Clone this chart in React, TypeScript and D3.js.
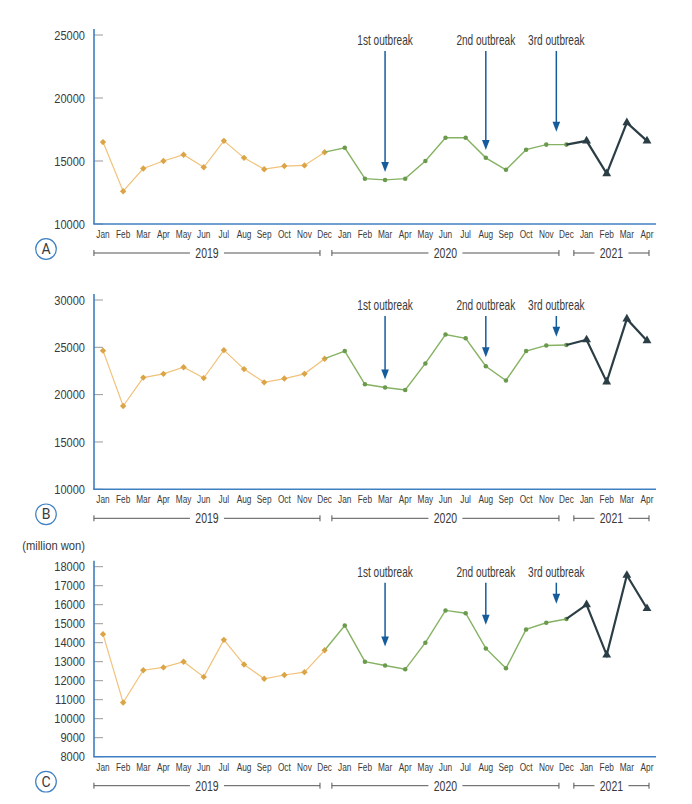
import React from 'react';
import * as d3 from 'd3';

const monthLabels = [
  'Jan', 'Feb', 'Mar', 'Apr', 'May', 'Jun', 'Jul', 'Aug', 'Sep', 'Oct', 'Nov', 'Dec',
  'Jan', 'Feb', 'Mar', 'Apr', 'May', 'Jun', 'Jul', 'Aug', 'Sep', 'Oct', 'Nov', 'Dec',
  'Jan', 'Feb', 'Mar', 'Apr',
];

const yearLabels = ['2019', '2020', '2021'];
const outbreakLabels = ['1st outbreak', '2nd outbreak', '3rd outbreak'];
// month index the arrow points at (3rd sits between Nov and Dec 2020)
const outbreakMonth = [14, 19, 22.5];

const valuesA = [
  16500, 12600, 14400, 15000, 15500, 14500, 16600, 15250, 14350, 14600, 14650, 15700,
  16050, 13600, 13500, 13600, 15000, 16850, 16850, 15250, 14300, 15900, 16300, 16300,
  16600, 14000, 18050, 16600,
];
const valuesB = [
  24650, 18800, 21800, 22200, 22900, 21750, 24700, 22700, 21300, 21700, 22200, 23800,
  24600, 21100, 20750, 20500, 23300, 26350, 25950, 23000, 21500, 24600, 25200, 25250,
  25800, 21350, 28000, 25700,
];
const valuesC = [
  14450, 10850, 12550, 12700, 13000, 12200, 14150, 12850, 12100, 12300, 12450, 13600,
  14900, 13000, 12800, 12600, 14000, 15700, 15550, 13700, 12650, 14700, 15050, 15250,
  16000, 13350, 17550, 15800,
];

const tipsA = [14130, 15870, 17330];
const tipsB = [21600, 23950, 26130];
const tipsC = [13800, 14950, 16050];

const ticksA = [10000, 15000, 20000, 25000];
const ticksB = [10000, 15000, 20000, 25000, 30000];
const ticksC = [8000, 9000, 10000, 11000, 12000, 13000, 14000, 15000, 16000, 17000, 18000];

const axisBlue = '#3f80c2';
const arrowBlue = '#165c9c';
const textGray = '#3a3a3a';

const x = d3.scaleLinear().domain([0, 27]).range([103, 647]);

// year brackets in month-index units
const brackets = [
  { label: yearLabels[0], from: -0.45, to: 10.77 },
  { label: yearLabels[1], from: 11.36, to: 22.63 },
  { label: yearLabels[2], from: 23.37, to: 27.1 },
];

const diamond = 'M0,-3.2L3.2,0L0,3.2L-3.2,0Z';
const segments = [
  { from: 0, to: 11, markFrom: 0, line: '#f1c27a', mark: '#dba446', width: 1.2, shape: diamond },
  { from: 11, to: 23, markFrom: 12, line: '#86b263', mark: '#6a9a4c', width: 1.4, shape: d3.symbol().type(d3.symbolCircle).size(16)() || '' },
  { from: 23, to: 27, markFrom: 24, line: '#2b3d45', mark: '#2b3d45', width: 2.2, shape: d3.symbol().type(d3.symbolTriangle).size(34)() || '' },
];

// condensed text: Liberation Sans squeezed horizontally
const NText: React.FC<{ x: number; y: number; size: number; sx: number; anchor?: string; children: React.ReactNode }> = ({
  x, y, size, sx, anchor = 'middle', children,
}) => (
  <text
    transform={`translate(${x},${y}) scale(${sx},1)`}
    dy="0.35em"
    textAnchor={anchor}
    fontFamily='"Liberation Sans", Arial, sans-serif'
    fontSize={size}
    fill={textGray}
    stroke="none"
  >
    {children}
  </text>
);

interface PanelProps {
  letter: string;
  values: number[];
  tips: number[];
  ticks: number[];
  yRange: [number, number];
  unit?: string;
}

const Panel: React.FC<PanelProps> = ({ letter, values, tips, ticks, yRange, unit }) => {
  const y = d3.scaleLinear().domain([ticks[0], ticks[ticks.length - 1]]).range(yRange);
  const bottom = yRange[0];
  const topTick = yRange[1];
  const axisTop = topTick - 6;

  return (
    <g>
      {unit && (
        <NText x={85} y={axisTop - 15} size={13.5} sx={0.83} anchor="end">
          {unit}
        </NText>
      )}
      {ticks.map((t) => (
        <g key={t}>
          <line x1={94} x2={103} y1={y(t)} y2={y(t)} stroke="#999" strokeWidth={1} />
          <NText x={85} y={y(t)} size={13.5} sx={0.82} anchor="end">
            {t}
          </NText>
        </g>
      ))}
      <line x1={94} x2={94} y1={axisTop} y2={bottom} stroke={axisBlue} strokeWidth={1.6} />
      <line x1={93.2} x2={656} y1={bottom} y2={bottom} stroke={axisBlue} strokeWidth={1.6} />

      {segments.map((s, k) => {
        const pts = values.slice(s.from, s.to + 1);
        return (
          <g key={k}>
            <path
              d={d3.line<number>().x((_, i) => x(s.from + i)).y((d) => y(d))(pts) || ''}
              fill="none"
              stroke={s.line}
              strokeWidth={s.width}
            />
            {values.slice(s.markFrom, s.to + 1).map((v, i) => (
              <path key={i} d={s.shape} transform={`translate(${x(s.markFrom + i)},${y(v)})`} fill={s.mark} />
            ))}
          </g>
        );
      })}

      {outbreakLabels.map((lab, i) => {
        const cx = x(outbreakMonth[i]);
        const tipY = y(tips[i]);
        const startY = topTick + 16;
        return (
          <g key={lab}>
            <NText x={cx} y={topTick + 5} size={14} sx={0.72}>
              {lab}
            </NText>
            <line x1={cx} x2={cx} y1={startY} y2={tipY - 8} stroke={arrowBlue} strokeWidth={1.5} />
            <path d={`M${cx - 3.8},${tipY - 10}L${cx + 3.8},${tipY - 10}L${cx},${tipY}Z`} fill={arrowBlue} />
          </g>
        );
      })}

      {monthLabels.map((m, i) => (
        <NText key={i} x={x(i)} y={bottom + 10} size={11.5} sx={0.72}>
          {m}
        </NText>
      ))}

      {brackets.map((b) => {
        const x0 = x(b.from);
        const x1 = x(b.to);
        const mid = (x0 + x1) / 2;
        const yy = bottom + 29;
        const half = 17;
        return (
          <g key={b.label} stroke="#555" strokeWidth={1}>
            <line x1={x0} x2={mid - half} y1={yy} y2={yy} />
            <line x1={mid + half} x2={x1} y1={yy} y2={yy} />
            <line x1={x0} x2={x0} y1={yy - 3} y2={yy + 3} />
            <line x1={x1} x2={x1} y1={yy - 3} y2={yy + 3} />
            <NText x={mid} y={yy} size={14} sx={0.75}>
              {b.label}
            </NText>
          </g>
        );
      })}

      <circle cx={46} cy={bottom + 25} r={10.3} fill="white" stroke={axisBlue} strokeWidth={1.2} />
      <text x={46} y={bottom + 25} dy="0.36em" textAnchor="middle" fontFamily="Roboto, sans-serif" fontSize={14} fill={textGray}>
        {letter}
      </text>
    </g>
  );
};

export default function App() {
  return (
    <svg width={692} height={804} style={{ position: 'absolute', left: 0, top: 0, background: 'white' }}>
      <rect width={692} height={804} fill="white" />
      <Panel letter="A" values={valuesA} tips={tipsA} ticks={ticksA} yRange={[224, 35]} />
      <Panel letter="B" values={valuesB} tips={tipsB} ticks={ticksB} yRange={[489.3, 300]} />
      <Panel letter="C" values={valuesC} tips={tipsC} ticks={ticksC} yRange={[756.7, 566.7]} unit="(million won)" />
    </svg>
  );
}
